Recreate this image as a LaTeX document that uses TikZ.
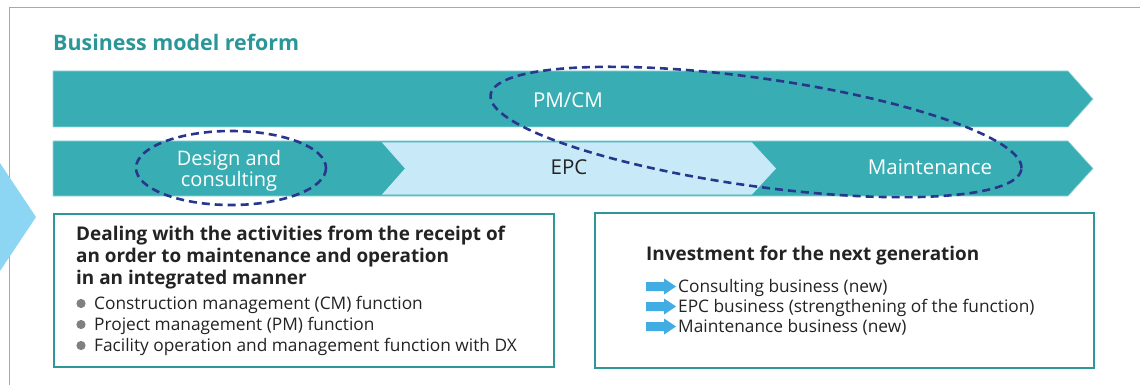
\documentclass[tikz,border=0pt]{standalone}
\usepackage{fontspec}
\setmainfont{Open Sans}
\definecolor{Band}{RGB}{56,174,180}
\definecolor{BandEdge}{RGB}{150,212,214}
\definecolor{Epcfill}{RGB}{200,234,248}
\definecolor{Frame}{RGB}{120,190,190}
\definecolor{Boxline}{RGB}{46,152,152}
\definecolor{Title}{RGB}{42,150,152}
\definecolor{Ring}{RGB}{40,55,140}
\definecolor{Sky}{RGB}{140,214,244}
\definecolor{Pointer}{RGB}{65,173,226}
\definecolor{Ink}{RGB}{35,35,35}
\definecolor{Dot}{RGB}{128,128,128}

\begin{document}
\begin{tikzpicture}[x=1pt,y=-1pt,line join=miter,
  band/.style={fill=Band,draw=BandEdge,line width=0.6pt},
  ring/.style={draw=Ring,line width=2.6pt,dash pattern=on 8pt off 5pt},
  panel/.style={draw=Boxline,line width=1.8pt,fill=white,anchor=north west,inner sep=0pt},
  tag/.style={text=white,font=\fontsize{20.5}{20.5}\selectfont,anchor=base,inner sep=0pt},
  head/.style={text=Ink,font=\bfseries\fontsize{18.9}{22}\selectfont,align=left,anchor=north west,inner sep=0pt},
  item/.style={text=Ink,font=\fontsize{17.3}{20}\selectfont,anchor=base west,inner sep=0pt}]
\path[use as bounding box] (0,0) rectangle (1140,385);
% outer frame, cut by the page
\draw[Frame,line width=0.8pt] (9,385) -- (9,7) -- (1140,7);
\fill[Sky] (0,163) -- (36,217) -- (0,271) -- cycle;
% title
\node[text=Title,font=\bfseries\fontsize{21.4}{21.4}\selectfont,anchor=base west,inner sep=0pt] (title) at (53,51) {Business model reform};
% bands
\draw[band] (53,71) -- (1068,71) -- (1093,99) -- (1068,127) -- (53,127) -- cycle;
\draw[band] (53,141) -- (1068,141) -- (1093,168.5) -- (1068,196) -- (53,196) -- cycle;
\fill[Epcfill] (382,142.5) -- (752,142.5) -- (776,168.5) -- (752,194.5) -- (382,194.5) -- (405,168.5) -- cycle;
\node[tag] (pmcm) at (568,108) {PM/CM};
\node[tag,anchor=center,align=center,font=\fontsize{20}{19.5}\selectfont] (design) at (229,170.5) {Design and\\consulting};
\node[tag,text=Ink] (epc) at (569,175) {EPC};
\node[tag] (maint) at (930,175) {Maintenance};
% dashed rings
\draw[ring] (231,168) ellipse [x radius=95, y radius=37];
\draw[ring,rotate around={-8:(756,132)}] (756,132) ellipse [x radius=268, y radius=54];
% lower panels
\node[panel,minimum width=500,minimum height=153] (dealbox) at (53,213) {};
\node[panel,minimum width=499,minimum height=155] (investbox) at (594,212) {};
\node[head] (deal) at (76,226) {Dealing with the activities from the receipt of\\an order to maintenance and operation\\in an integrated manner};
\foreach \y/\txt [count=\i] in {309/Construction management (CM) function,330/Project management (PM) function,351/Facility operation and management function with DX} {
  \fill[Dot] (81,\y-5.5) circle[radius=4.6];
  \node[item] (fn\i) at (94,\y) {\txt};
}
\node[head,anchor=base west] (invest) at (646,260) {Investment for the next generation};
\foreach \y/\txt [count=\i] in {292.5/Consulting business (new),312.5/EPC business (strengthening of the function),332.5/Maintenance business (new)} {
  \fill[Pointer] (646,\y-10.5) -- (664,\y-10.5) -- (664,\y-14) -- (676,\y-6) -- (664,\y+2) -- (664,\y-1.5) -- (646,\y-1.5) -- cycle;
  \node[item] (biz\i) at (678,\y) {\txt};
}
\end{tikzpicture}
\end{document}
